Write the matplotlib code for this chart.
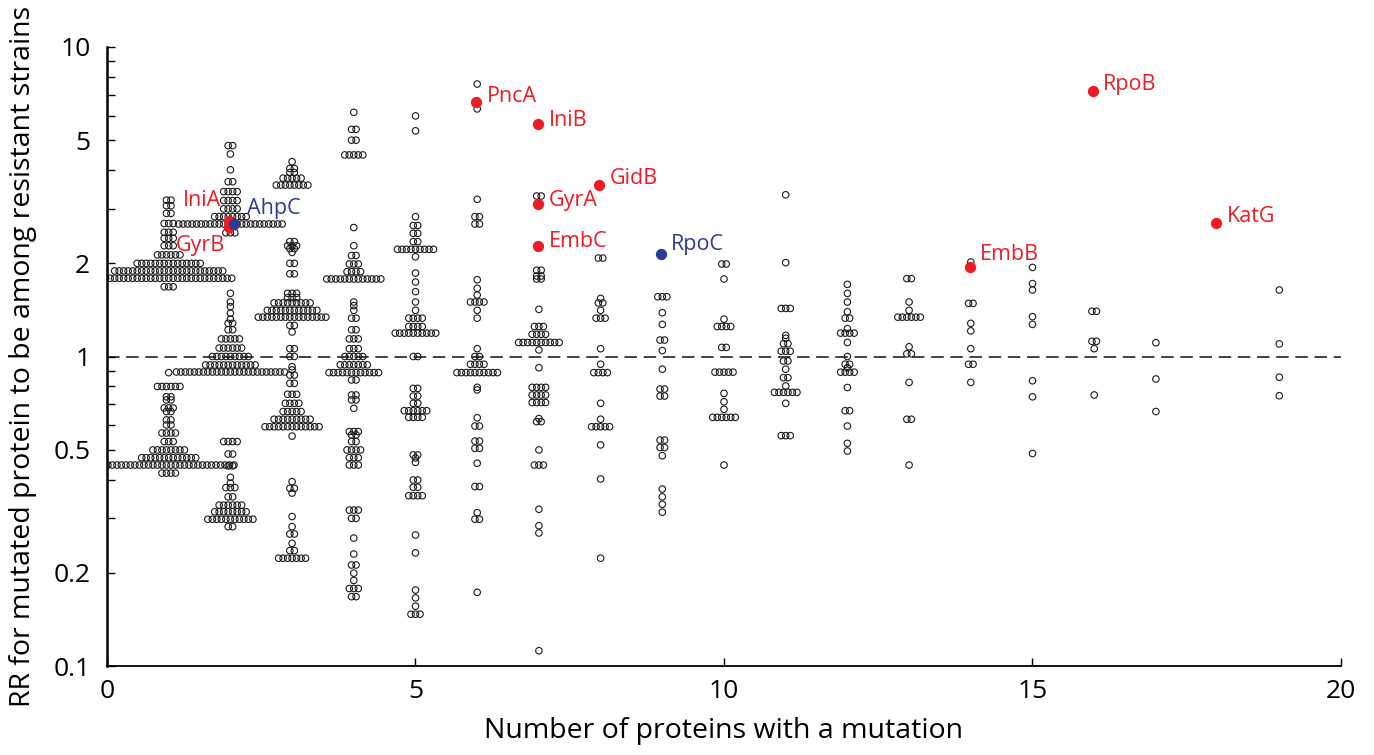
import numpy as np
import matplotlib
matplotlib.use("Agg")
import matplotlib.pyplot as plt
from matplotlib.ticker import FixedLocator, FixedFormatter, NullFormatter

# ---------------- data: RR values (y) and number of tied proteins per value ----------------
rr_1 = [3.2, 3.07, 2.90, 2.69, 2.52, 2.41, 2.28, 2.13, 2.0, 1.89, 1.79, 1.68,
        0.887, 0.80, 0.741, 0.724, 0.682, 0.664, 0.624, 0.601, 0.566, 0.531, 0.499, 0.471, 0.446, 0.42]
n_1 = [2, 2, 2, 3, 3, 3, 3, 6, 15, 25, 29, 3,
       1, 6, 2, 2, 3, 2, 2, 2, 4, 3, 8, 13, 30, 4]

rr_2 = [4.80, 4.51, 4.01, 3.67, 3.41, 3.19, 3.0, 2.83, 2.68, 2.51,
        1.60, 1.50, 1.45, 1.38, 1.32, 1.28, 1.22, 1.14, 1.065, 1.0, 0.939, 0.891,
        0.531, 0.484, 0.443, 0.407, 0.39, 0.377, 0.352, 0.331, 0.315, 0.298, 0.282]
n_2 = [2, 1, 1, 2, 4, 4, 4, 8, 24, 3,
       1, 1, 1, 1, 1, 2, 2, 5, 6, 9, 12, 25,
       4, 2, 2, 1, 1, 3, 2, 6, 8, 11, 2]

rr_3 = [4.26, 4.05, 3.93, 3.77, 3.58,
        2.35, 2.28, 2.23, 2.17, 2.0, 1.85, 1.60, 1.55, 1.49, 1.41, 1.34, 1.26, 1.20,
        1.06, 1.0, 0.927, 0.905, 0.871, 0.819, 0.755, 0.706, 0.664, 0.627, 0.593, 0.553,
        0.394, 0.375, 0.362, 0.304, 0.282, 0.267, 0.249, 0.236, 0.223]
n_3 = [1, 2, 2, 5, 8,
       2, 3, 2, 1, 2, 2, 3, 3, 9, 12, 16, 2, 1,
       2, 2, 1, 1, 2, 2, 3, 4, 5, 9, 13, 1,
       1, 2, 1, 1, 1, 2, 1, 2, 7]

rr_4 = [6.15, 5.42, 5.0, 4.48, 2.61, 2.28, 2.12, 1.99, 1.88, 1.78,
        1.50, 1.46, 1.41, 1.33, 1.22, 1.14, 1.06, 1.0, 0.94, 0.887, 0.84,
        0.751, 0.724, 0.68, 0.572, 0.558, 0.531, 0.499, 0.471, 0.446,
        0.319, 0.30, 0.259, 0.23, 0.212, 0.1995, 0.189, 0.178, 0.1675]
n_4 = [1, 2, 2, 5, 1, 1, 2, 3, 4, 13,
       1, 1, 1, 2, 2, 3, 3, 5, 7, 12, 2,
       2, 2, 1, 3, 2, 2, 4, 3, 3,
       3, 2, 1, 1, 2, 1, 1, 3, 2]

rr_5 = [5.99, 5.36, 2.83, 2.65, 2.50, 2.35, 2.22, 2.10, 1.86, 1.74, 1.62, 1.50, 1.41,
        1.33, 1.25, 1.19, 1.0, 0.789, 0.745, 0.706, 0.668, 0.636,
        0.481, 0.47, 0.455, 0.399, 0.378, 0.355, 0.265, 0.232, 0.176, 0.166, 0.156, 0.147]
n_5 = [1, 1, 1, 2, 2, 2, 9, 1, 1, 1, 1, 1, 1,
       4, 4, 10, 2, 2, 2, 2, 6, 4,
       2, 1, 1, 2, 2, 4, 1, 1, 1, 1, 1, 3]

rr_6 = [7.59, 6.31, 3.22, 2.83, 2.68, 1.77, 1.66, 1.58, 1.50, 1.41, 1.33,
        1.06, 1.0, 0.944, 0.887, 0.795, 0.78, 0.634, 0.596, 0.533, 0.505, 0.452,
        0.38, 0.313, 0.298, 0.173]
n_6 = [1, 1, 1, 2, 2, 1, 1, 1, 4, 1, 1,
       1, 2, 4, 10, 1, 1, 1, 2, 2, 2, 1,
       2, 1, 2, 1]

rr_7 = [3.30, 1.90, 1.82, 1.78, 1.42, 1.25, 1.18, 1.11, 1.05, 0.92,
        0.795, 0.751, 0.71, 0.63, 0.616, 0.499, 0.446, 0.321, 0.284, 0.269, 0.112]
n_7 = [2, 2, 2, 2, 1, 3, 4, 10, 1, 1,
       4, 4, 4, 1, 2, 1, 3, 1, 1, 1, 1]

rr_8 = [2.08, 1.54, 1.49, 1.41, 1.33, 1.06, 0.944, 0.887, 0.706, 0.627, 0.593, 0.518, 0.402, 0.223]
n_8 = [2, 1, 2, 1, 3, 1, 1, 4, 1, 1, 5, 1, 1, 1]

rr_9 = [1.56, 1.385, 1.27, 1.13, 1.045, 0.91, 0.785, 0.745, 0.537, 0.508, 0.478, 0.373, 0.352, 0.333, 0.314]
n_9 = [3, 1, 1, 2, 1, 1, 2, 2, 2, 2, 1, 1, 1, 1, 1]

rr_10 = [1.99, 1.78, 1.32, 1.25, 1.07, 0.89, 0.76, 0.714, 0.675, 0.636, 0.446]
n_10 = [2, 1, 1, 4, 2, 5, 1, 1, 1, 6, 1]

rr_11 = [3.33, 2.01, 1.43, 1.17, 1.145, 1.10, 1.04, 0.967, 0.91, 0.854, 0.803, 0.766, 0.706, 0.555]
n_11 = [1, 1, 3, 1, 1, 2, 3, 2, 1, 2, 1, 6, 1, 3]

rr_12 = [1.71, 1.60, 1.50, 1.395, 1.33, 1.23, 1.19, 1.11, 1.0, 0.944, 0.92, 0.89, 0.794, 0.668, 0.596, 0.524, 0.495]
n_12 = [1, 1, 1, 1, 2, 1, 4, 1, 1, 2, 1, 4, 1, 2, 1, 1, 1]

rr_13 = [1.785, 1.50, 1.41, 1.34, 1.075, 1.02, 0.825, 0.627, 0.446]
n_13 = [2, 1, 1, 6, 1, 2, 1, 2, 1]

rr_14 = [2.02, 1.485, 1.28, 1.21, 1.06, 0.944, 0.825]
n_14 = [1, 2, 1, 1, 1, 2, 1]

rr_15 = [1.94, 1.72, 1.64, 1.345, 1.27, 0.835, 0.741, 0.486]
n_15 = [1, 1, 1, 1, 1, 1, 1, 1]

rr_16 = [1.40, 1.12, 1.06, 0.751]
n_16 = [2, 2, 1, 1]

rr_17 = [1.108, 0.846, 0.664]
n_17 = [1, 1, 1]

rr_19 = [1.64, 1.098, 0.857, 0.747]
n_19 = [1, 1, 1, 1]

columns = [(1, rr_1, n_1), (2, rr_2, n_2), (3, rr_3, n_3), (4, rr_4, n_4), (5, rr_5, n_5),
           (6, rr_6, n_6), (7, rr_7, n_7), (8, rr_8, n_8), (9, rr_9, n_9), (10, rr_10, n_10),
           (11, rr_11, n_11), (12, rr_12, n_12), (13, rr_13, n_13), (14, rr_14, n_14),
           (15, rr_15, n_15), (16, rr_16, n_16), (17, rr_17, n_17), (19, rr_19, n_19)]

# highlighted proteins
hl_names = ["IniA", "GyrB", "AhpC", "PncA", "IniB", "GyrA", "EmbC", "GidB", "RpoC", "EmbB", "RpoB", "KatG"]
hl_x = [2, 2, 2, 6, 7, 7, 7, 8, 9, 14, 16, 18]
hl_rr = [2.74, 2.62, 2.68, 6.63, 5.62, 3.12, 2.28, 3.58, 2.14, 1.94, 7.21, 2.69]
hl_group = ["r", "r", "b", "r", "r", "r", "r", "r", "b", "r", "r", "r"]

# ---------------- style ----------------
RED = "#ED1C24"
BLUE = "#2E3A93"
FONT = ["Open Sans", "DejaVu Sans"]
plt.rcParams["font.family"] = FONT

# label offsets in points (style, relative to highlighted dot)
lab_off = {"IniA": (-7, 15, "right"), "GyrB": (-4, -13, "right"), "AhpC": (12, 11.5, "left"),
           "PncA": (7, 4.3, "left"), "IniB": (7, 3, "left"), "GyrA": (7, 2.2, "left"),
           "EmbC": (7, 3, "left"), "GidB": (6.5, 5, "left"), "RpoC": (6.5, 7, "left"),
           "EmbB": (6.5, 9, "left"), "RpoB": (6, 5, "left"), "KatG": (6.5, 5, "left")}

W, H = 1374, 755
fig = plt.figure(figsize=(W / 100, H / 100), dpi=100)
ax = fig.add_axes([107 / W, 1 - 666 / H, (1341 - 107) / W, (666 - 47) / H])
ax.set_yscale("log")
ax.set_xlim(0, 20)
ax.set_ylim(0.1, 10)

dx = 0.073  # horizontal spacing between tied points (data units)
xs_all, ys_all = [], []
for xc, rr, nn in columns:
    for v, n in zip(rr, nn):
        offs = (np.arange(n) - (n - 1) / 2.0) * dx
        xs_all.extend(xc + offs)
        ys_all.extend([v] * n)

ax.axhline(1.0, color="#222222", lw=1.2, dashes=(7.5, 4), zorder=1)
ax.scatter(xs_all, ys_all, s=22, facecolors="none", edgecolors="#1a1a1a", linewidths=0.8, zorder=2)

for name, x, v, g in zip(hl_names, hl_x, hl_rr, hl_group):
    c = RED if g == "r" else BLUE
    ax.scatter([x + (0.06 if name == "AhpC" else -0.02)], [v], s=66, color=c, zorder=4, linewidths=0)
    ox, oy, ha = lab_off[name]
    ax.annotate(name, (x, v), xytext=(ox, oy), textcoords="offset points", ha=ha, va="center",
                color=c, fontsize=15.5, zorder=5)

# axes styling
for s in ["top", "right"]:
    ax.spines[s].set_visible(False)
ax.spines["left"].set_linewidth(1.8)
ax.spines["bottom"].set_linewidth(1.3)

major = [0.1, 0.2, 0.5, 1, 2, 5, 10]
major_lbl = ["0.1", "0.2", "0.5", "1", "2", "5", "10"]
minor = [m * d for d in (0.1, 1) for m in range(2, 10)]
minor = [m for m in minor if m not in major]
ax.yaxis.set_major_locator(FixedLocator(major))
ax.yaxis.set_major_formatter(FixedFormatter(major_lbl))
ax.yaxis.set_minor_locator(FixedLocator(minor))
ax.yaxis.set_minor_formatter(NullFormatter())
ax.set_xticks([0, 5, 10, 15, 20])
ax.tick_params(axis="y", which="both", direction="in", length=6, width=1.0, labelsize=19, pad=12)
ax.tick_params(axis="x", which="both", direction="in", length=6, width=1.0, labelsize=19, pad=9)

ax.set_xlabel("Number of proteins with a mutation", fontsize=20.5, labelpad=10)
ax.set_ylabel("RR for mutated protein to be among resistant strains", fontsize=20.5, labelpad=12)

fig.savefig("out.png", dpi=100)
